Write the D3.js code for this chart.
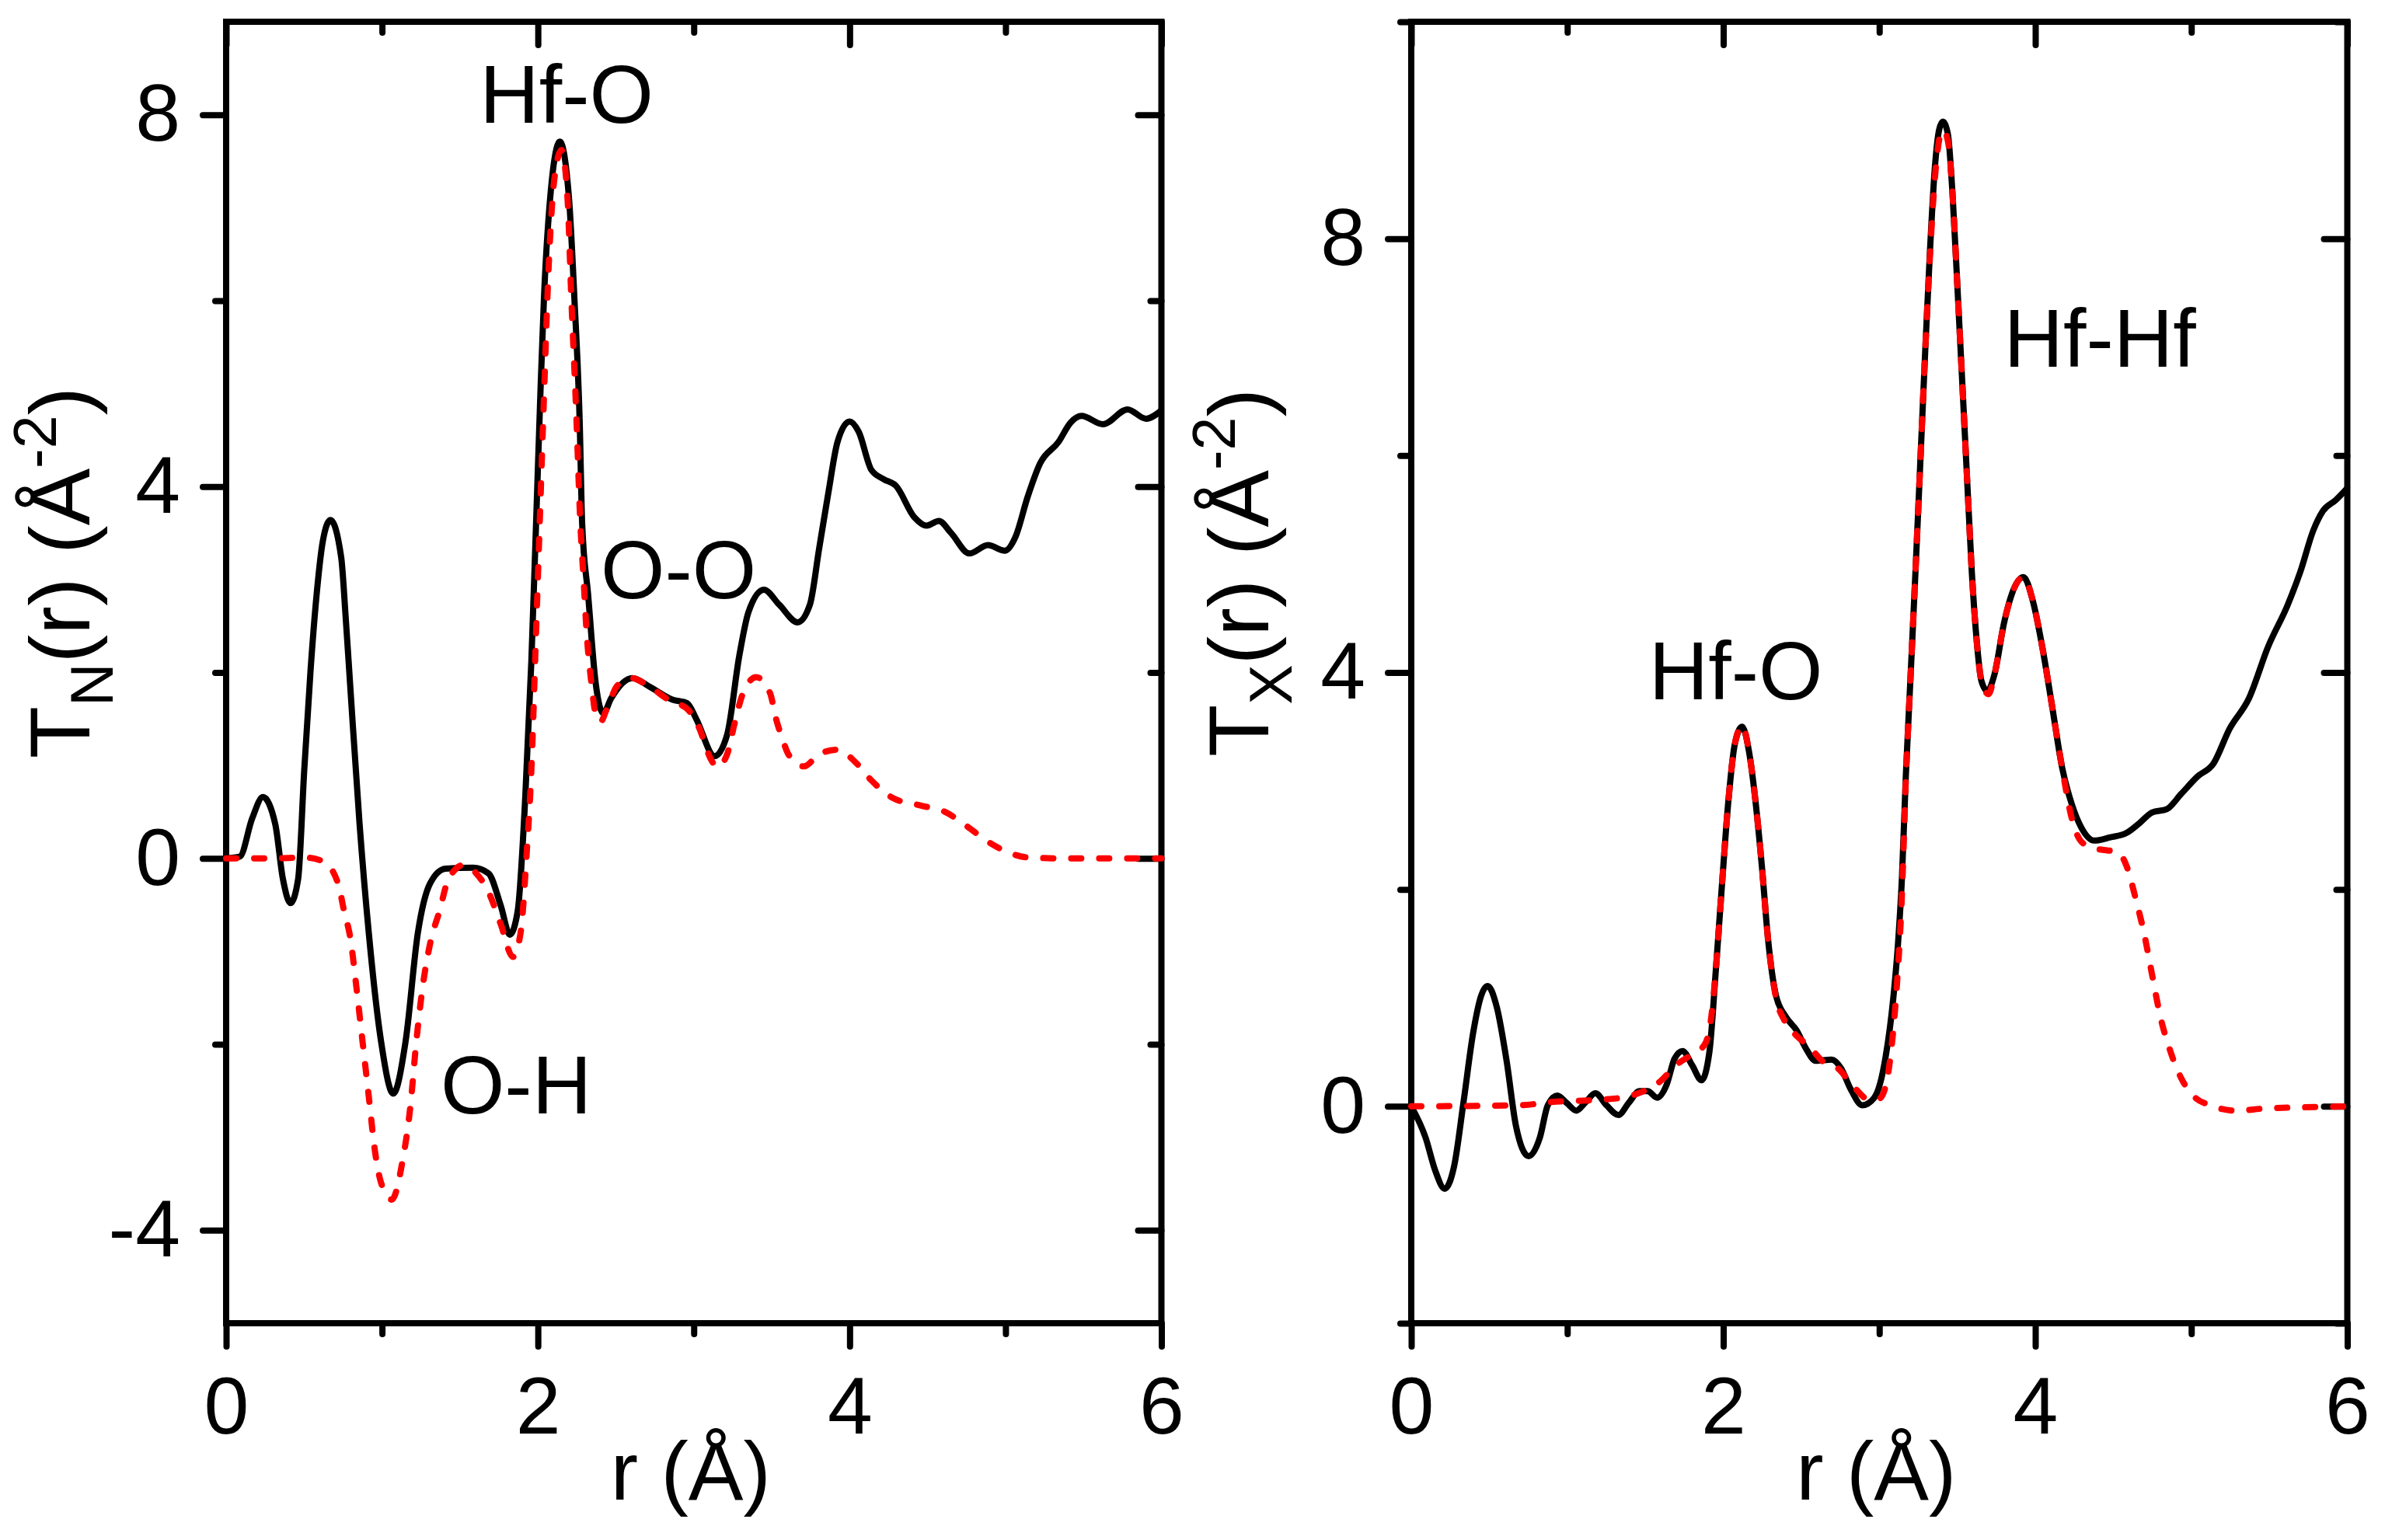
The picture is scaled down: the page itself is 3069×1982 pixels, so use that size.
<!DOCTYPE html>
<html>
<head>
<meta charset="utf-8">
<script src="https://cdn.jsdelivr.net/npm/d3@7"></script>
<style>
  body { margin: 0; background: #fff; }
</style>
</head>
<body>
<script>
// r 轴刻度
const rMajor = [0, 2, 4, 6];
const rMinor = [1, 3, 5];
// 左图 T_N 刻度
const tnMajor = [-4, 0, 4, 8];
const tnMinor = [-2, 2, 6];
// 右图 T_X 刻度
const txMajor = [0, 4, 8];
const txMinor = [-2, 2, 6, 10];

// 中子 T_N(r)：实验（黑线）
const tnTotal = [
  [0, 0], [0.088, 0.02], [0.167, 0.43], [0.236, 0.66], [0.315, 0.37], [0.364, -0.22],
  [0.413, -0.48], [0.462, -0.22], [0.501, 0.95], [0.541, 2.01], [0.58, 2.83], [0.62, 3.41],
  [0.669, 3.64], [0.738, 3.24], [0.767, 2.59], [0.797, 1.83], [0.856, 0.37], [0.915, -0.8],
  [0.994, -1.97], [1.072, -2.53], [1.151, -1.97], [1.23, -0.8], [1.308, -0.27], [1.407, -0.11],
  [1.584, -0.1], [1.683, -0.16], [1.762, -0.51], [1.82, -0.82], [1.87, -0.57], [1.919, 0.66],
  [1.958, 2.12], [1.988, 3.59], [2.017, 5.05], [2.039, 6.03], [2.078, 7.09], [2.141, 7.71],
  [2.2, 7.09], [2.234, 6.03], [2.268, 4.7], [2.284, 3.6], [2.322, 2.84], [2.371, 1.88],
  [2.42, 1.56], [2.469, 1.72], [2.606, 1.94], [2.714, 1.85], [2.86, 1.71], [2.958, 1.67],
  [3.016, 1.5], [3.134, 1.1], [3.214, 1.33], [3.292, 2.18], [3.351, 2.65], [3.45, 2.89],
  [3.548, 2.73], [3.666, 2.54], [3.745, 2.73], [3.804, 3.33], [3.863, 3.93], [3.922, 4.48],
  [4.0, 4.7], [4.058, 4.59], [4.139, 4.18], [4.217, 4.08], [4.296, 4.01], [4.415, 3.67],
  [4.493, 3.58], [4.572, 3.63], [4.651, 3.5], [4.768, 3.28], [4.887, 3.37], [4.995, 3.31],
  [5.064, 3.46], [5.142, 3.89], [5.222, 4.25], [5.34, 4.48], [5.418, 4.69], [5.487, 4.76],
  [5.625, 4.67], [5.783, 4.83], [5.901, 4.73], [6.0, 4.82]
];
// 中子 T_N(r)：模型（红虚线）
const tnModel = [
  [0, 0], [0.3, 0], [0.5, 0.01], [0.62, -0.03], [0.718, -0.27], [0.757, -0.57],
  [0.797, -0.86], [0.836, -1.39], [0.875, -1.97], [0.915, -2.56], [0.954, -3.14], [0.994, -3.49],
  [1.063, -3.67], [1.131, -3.26], [1.181, -2.68], [1.22, -1.97], [1.26, -1.39], [1.308, -0.92],
  [1.368, -0.57], [1.427, -0.22], [1.525, -0.07], [1.604, -0.16], [1.683, -0.36], [1.762, -0.71],
  [1.84, -1.06], [1.889, -0.8], [1.929, 0.08], [1.958, 0.95], [1.988, 2.42], [2.017, 3.88],
  [2.037, 4.87], [2.07, 6.4], [2.105, 7.3], [2.151, 7.62], [2.19, 7.1], [2.215, 6.0],
  [2.244, 4.87], [2.273, 3.58], [2.293, 3.0], [2.313, 2.42], [2.343, 1.89], [2.372, 1.54],
  [2.402, 1.47], [2.44, 1.6], [2.51, 1.86], [2.598, 1.94], [2.714, 1.85], [2.844, 1.7],
  [2.963, 1.6], [3.03, 1.42], [3.115, 1.05], [3.15, 0.98], [3.214, 1.12], [3.263, 1.46],
  [3.312, 1.76], [3.4, 1.95], [3.489, 1.78], [3.528, 1.5], [3.568, 1.29], [3.607, 1.12],
  [3.706, 0.99], [3.804, 1.12], [3.922, 1.17], [4.04, 1.03], [4.139, 0.84], [4.277, 0.65],
  [4.454, 0.57], [4.612, 0.5], [4.749, 0.35], [4.887, 0.18], [5.025, 0.06], [5.143, 0.01],
  [5.4, 0], [6.0, 0]
];
// X 射线 T_X(r)：实验（黑线）
const txTotal = [
  [0, 0], [0.092, -0.29], [0.153, -0.59], [0.214, -0.76], [0.275, -0.55], [0.336, 0.05],
  [0.397, 0.68], [0.448, 1.02], [0.489, 1.11], [0.549, 0.91], [0.611, 0.42], [0.671, -0.18],
  [0.752, -0.46], [0.824, -0.29], [0.875, 0.01], [0.936, 0.1], [0.997, 0.03], [1.058, -0.04],
  [1.119, 0.04], [1.18, 0.12], [1.251, 0.01], [1.328, -0.08], [1.393, 0.03], [1.464, 0.14],
  [1.515, 0.14], [1.576, 0.08], [1.637, 0.2], [1.688, 0.44], [1.739, 0.51], [1.8, 0.38],
  [1.861, 0.24], [1.911, 0.5], [1.952, 1.25], [1.993, 2.07], [2.033, 2.82], [2.074, 3.34],
  [2.121, 3.5], [2.165, 3.27], [2.206, 2.82], [2.247, 2.22], [2.287, 1.54], [2.338, 1.02],
  [2.399, 0.83], [2.47, 0.7], [2.531, 0.53], [2.592, 0.42], [2.694, 0.43], [2.755, 0.35],
  [2.816, 0.16], [2.891, 0.01], [2.968, 0.08], [3.04, 0.45], [3.09, 1.0], [3.12, 1.5],
  [3.145, 2.1], [3.17, 3.04], [3.201, 3.98], [3.232, 4.93], [3.263, 5.94], [3.294, 6.95],
  [3.325, 7.89], [3.356, 8.65], [3.383, 9.0], [3.407, 9.08], [3.439, 8.97], [3.47, 8.4],
  [3.5, 7.58], [3.531, 6.7], [3.562, 5.81], [3.593, 4.93], [3.624, 4.3], [3.655, 3.92],
  [3.692, 3.83], [3.738, 3.98], [3.8, 4.46], [3.862, 4.77], [3.924, 4.88], [3.986, 4.65],
  [4.048, 4.21], [4.11, 3.67], [4.171, 3.13], [4.233, 2.79], [4.295, 2.57], [4.378, 2.45],
  [4.481, 2.48], [4.584, 2.52], [4.667, 2.61], [4.749, 2.71], [4.843, 2.74], [4.935, 2.88],
  [5.039, 3.04], [5.142, 3.16], [5.245, 3.48], [5.369, 3.76], [5.493, 4.24], [5.617, 4.62],
  [5.699, 4.93], [5.782, 5.31], [5.844, 5.49], [5.926, 5.59], [6.0, 5.7]
];
// X 射线 T_X(r)：模型（红虚线）
const txModel = [
  [0, 0], [0.7, 0.01], [0.9, 0.04], [1.2, 0.06], [1.35, 0.08], [1.474, 0.13],
  [1.596, 0.23], [1.698, 0.38], [1.8, 0.48], [1.881, 0.57], [1.921, 0.8], [1.952, 1.25],
  [1.993, 2.07], [2.033, 2.82], [2.074, 3.34], [2.121, 3.51], [2.165, 3.27], [2.206, 2.82],
  [2.247, 2.22], [2.287, 1.54], [2.338, 1.0], [2.389, 0.8], [2.47, 0.65], [2.552, 0.55],
  [2.633, 0.42], [2.735, 0.35], [2.836, 0.18], [2.938, 0.06], [2.999, 0.07], [3.04, 0.18],
  [3.075, 0.5], [3.11, 1.06], [3.145, 1.95], [3.17, 3.0], [3.201, 3.98], [3.232, 4.93],
  [3.263, 5.94], [3.294, 6.95], [3.325, 7.85], [3.356, 8.55], [3.39, 8.95], [3.41, 9.0],
  [3.44, 8.9], [3.47, 8.4], [3.5, 7.58], [3.531, 6.7], [3.562, 5.81], [3.593, 4.93],
  [3.624, 4.3], [3.655, 3.92], [3.7, 3.8], [3.738, 3.98], [3.8, 4.46], [3.862, 4.77],
  [3.924, 4.88], [3.986, 4.65], [4.048, 4.21], [4.11, 3.67], [4.171, 3.13], [4.233, 2.66],
  [4.295, 2.44], [4.378, 2.38], [4.461, 2.36], [4.523, 2.35], [4.584, 2.22], [4.646, 1.9],
  [4.698, 1.59], [4.749, 1.21], [4.801, 0.83], [4.863, 0.52], [4.935, 0.26], [5.018, 0.09],
  [5.121, 0.01], [5.286, -0.04], [5.47, -0.02], [5.7, -0.01], [6.0, 0]
];
// 峰的标注
const tnNotes = ["Hf-O", "O-O", "O-H"];
const txNotes = ["Hf-O", "Hf-Hf"];

const font = '"Liberation Sans", Arial, sans-serif';
const plotTop = 28, plotBottom = 1703;  //两图共用的上下边界

var svg = d3.select("body")
  .append("svg")
  .attr("width", 3069)
  .attr("height", 1982)
  .style("background", "#fff");

// 画一条坐标轴并统一样式
function axis(g, a, t) {
  var ax = g.append("g").attr("transform", t).call(a);
  ax.select(".domain").remove();
  ax.selectAll("line")
    .attr("stroke", "#000")
    .attr("stroke-width", 8)
    .attr("stroke-linecap", "round");
  ax.selectAll("text")
    .attr("font-size", 104)
    .attr("font-family", font)
    .attr("fill", "#000");
}

function drawPanel(p) {
  var x = d3.scaleLinear().domain([0, 6]).range([p.left, p.right]);
  var y = d3.scaleLinear().domain(p.yDomain).range([plotBottom, plotTop]);
  var g = svg.append("g");
  var fmt = d => String(d);  //用普通连字符作负号

  // 边框
  g.append("rect")
    .attr("x", p.left)
    .attr("y", plotTop)
    .attr("width", p.right - p.left)
    .attr("height", plotBottom - plotTop)
    .attr("fill", "none")
    .attr("stroke", "#000")
    .attr("stroke-width", 8);

  // 下轴（向外），上轴（向内）
  axis(g, d3.axisBottom(x).tickValues(rMajor).tickSize(30).tickPadding(38).tickFormat(fmt), `translate(0,${plotBottom})`);
  axis(g, d3.axisBottom(x).tickValues(rMinor).tickSize(14).tickFormat(""), `translate(0,${plotBottom})`);
  axis(g, d3.axisTop(x).tickValues(rMajor).tickSize(-30).tickFormat(""), `translate(0,${plotTop})`);
  axis(g, d3.axisTop(x).tickValues(rMinor).tickSize(-14).tickFormat(""), `translate(0,${plotTop})`);
  // 左轴（向外），右轴（向内）
  axis(g, d3.axisLeft(y).tickValues(p.yMajor).tickSize(30).tickPadding(29).tickFormat(fmt), `translate(${p.left},0)`);
  axis(g, d3.axisLeft(y).tickValues(p.yMinor).tickSize(14).tickFormat(""), `translate(${p.left},0)`);
  axis(g, d3.axisRight(y).tickValues(p.yMajor).tickSize(-30).tickFormat(""), `translate(${p.right},0)`);
  axis(g, d3.axisRight(y).tickValues(p.yMinor).tickSize(-14).tickFormat(""), `translate(${p.right},0)`);

  // 曲线
  var line = d3.line()
    .x(d => x(d[0]))
    .y(d => y(d[1]))
    .curve(d3.curveMonotoneX);
  g.append("path")
    .datum(p.total)
    .attr("d", line)
    .attr("fill", "none")
    .attr("stroke", "#000")
    .attr("stroke-width", 8)
    .attr("stroke-linejoin", "round");
  g.append("path")
    .datum(p.model)
    .attr("d", line)
    .attr("fill", "none")
    .attr("stroke", "#ff0000")
    .attr("stroke-width", 8)
    .attr("stroke-dasharray", "13,23")
    .attr("stroke-linecap", "round");

  // 峰标注
  g.selectAll(".note")
    .data(p.notes)
    .enter()
    .append("text")
    .attr("class", "note")
    .attr("x", (d, i) => x(p.noteAt[i][0]))
    .attr("y", (d, i) => y(p.noteAt[i][1]))
    .attr("text-anchor", "middle")
    .attr("font-size", 106)
    .attr("font-family", font)
    .text(d => d);

  // x 轴标题
  g.append("text")
    .attr("x", (p.left + p.right) / 2 - 4)
    .attr("y", 1930)
    .attr("text-anchor", "middle")
    .attr("font-size", 106)
    .attr("font-family", font)
    .text("r (Å)");

  // y 轴标题（旋转，带上下标）
  var t = g.append("text")
    .attr("transform", `translate(${p.titleX},737) rotate(-90)`)
    .attr("text-anchor", "middle")
    .attr("font-size", 110)
    .attr("font-family", font);
  t.append("tspan").text("T");
  t.append("tspan").attr("font-size", 77).attr("dy", 30).text(p.sub);
  t.append("tspan").attr("dy", -30).text("(r) (Å");
  t.append("tspan").attr("font-size", 77).attr("dy", -43).text("-2");
  t.append("tspan").attr("dy", 43).text(")");
}

drawPanel({
  left: 291, right: 1494.5,
  yDomain: [-5, 9], yMajor: tnMajor, yMinor: tnMinor,
  total: tnTotal, model: tnModel,
  notes: tnNotes, noteAt: [[2.184, 7.91], [2.902, 2.8], [1.86, -2.74]],
  titleX: 115, sub: "N"
});
drawPanel({
  left: 1816, right: 3020.5,
  yDomain: [-2, 10], yMajor: txMajor, yMinor: txMinor,
  total: txTotal, model: txModel,
  notes: txNotes, noteAt: [[2.08, 3.75], [4.414, 6.82]],
  titleX: 1632, sub: "X"
});
</script>
</body>
</html>
